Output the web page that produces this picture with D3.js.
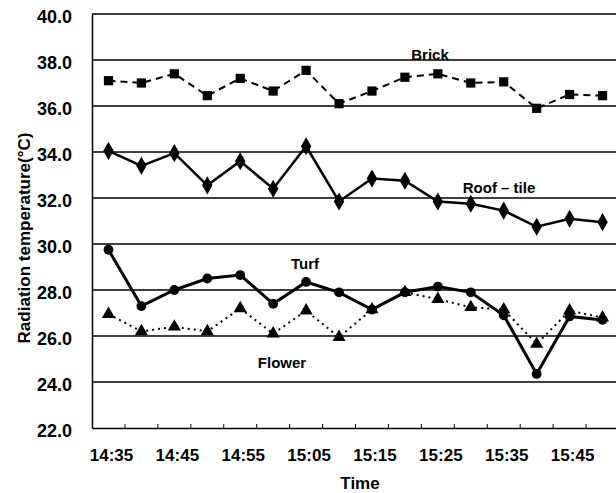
<!DOCTYPE html>
<html>
<head>
<meta charset="utf-8">
<script src="https://cdn.jsdelivr.net/npm/d3@7"></script>
<style>
  html, body { margin: 0; padding: 0; background: #fff; }
  svg { display: block; }
  text { font-family: "Liberation Sans", Arial, sans-serif; font-weight: bold; fill: #000; }
</style>
</head>
<body>
<svg id="chart" width="616" height="493"></svg>
<script>
const times = ["14:35","14:40","14:45","14:50","14:55","15:00","15:05","15:10",
               "15:15","15:20","15:25","15:30","15:35","15:40","15:45","15:50"];
const tickLabels = ["14:35","14:45","14:55","15:05","15:15","15:25","15:35","15:45"];
const yTicks = [22, 24, 26, 28, 30, 32, 34, 36, 38, 40];
const brick  = [37.1, 37.0, 37.4, 36.45, 37.2, 36.65, 37.55, 36.1, 36.65, 37.25, 37.4, 37.0, 37.05, 35.9, 36.5, 36.45];
const roof   = [34.05, 33.4, 33.95, 32.55, 33.6, 32.4, 34.25, 31.85, 32.85, 32.75, 31.85, 31.75, 31.45, 30.75, 31.1, 30.95];
const turf   = [29.75, 27.3, 28.0, 28.5, 28.65, 27.4, 28.35, 27.9, 27.15, 27.9, 28.15, 27.9, 26.9, 24.35, 26.85, 26.7];
const flower = [26.95, 26.2, 26.4, 26.2, 27.2, 26.1, 27.1, 25.95, 27.15, 27.9, 27.6, 27.25, 27.15, 25.65, 27.1, 26.8];

const svg = d3.select("#chart");
const mLeft = 92, mRight = 619, mTop = 14, mBottom = 428;

const x = d3.scaleBand().domain(times).range([mLeft, mRight]).paddingInner(0).paddingOuter(0);
const y = d3.scaleLinear().domain([22, 40]).range([mBottom, mTop]);
const cx = t => x(t) + x.bandwidth() / 2;

// gridlines
svg.append("g").selectAll("line")
  .data(yTicks.filter(v => v > 22))
  .join("line")
  .attr("x1", mLeft).attr("x2", 616)
  .attr("y1", d => y(d)).attr("y2", d => y(d))
  .attr("stroke", "#000").attr("stroke-width", 1.3);

// y axis
const yAxis = svg.append("g").attr("transform", `translate(${mLeft},0)`)
  .call(d3.axisLeft(y).tickValues(yTicks).tickFormat(d3.format(".1f")).tickSize(0).tickPadding(20));
yAxis.select(".domain").attr("stroke", "#000").attr("stroke-width", 1.5);
yAxis.selectAll("text").attr("font-size", 18).attr("font-family", "Liberation Sans, Arial, sans-serif")
  .attr("font-weight", "bold").attr("transform", "translate(0,3)");

// x axis
const xAxis = svg.append("g").attr("transform", `translate(0,${mBottom})`)
  .call(d3.axisBottom(x).tickValues(tickLabels).tickSize(0).tickPadding(21));
xAxis.select(".domain").attr("stroke", "#000").attr("stroke-width", 1.5);
xAxis.selectAll("text").attr("font-size", 17).attr("font-family", "Liberation Sans, Arial, sans-serif")
  .attr("font-weight", "bold").attr("transform", "translate(3,0)");
// small tick marks at category boundaries (pointing up)
xAxis.append("g").selectAll("line")
  .data(times.slice(1))
  .join("line")
  .attr("x1", d => x(d)).attr("x2", d => x(d))
  .attr("y1", 0).attr("y2", -4)
  .attr("stroke", "#000").attr("stroke-width", 1);

// axis titles
svg.append("text").attr("x", 360).attr("y", 489).attr("text-anchor", "middle")
  .attr("font-size", 17).text("Time");
svg.append("text").attr("transform", "translate(30,238) rotate(-90)").attr("text-anchor", "middle")
  .attr("font-size", 17).text("Radiation temperature(°C)");

// lines
const line = d3.line().x((d, i) => cx(times[i])).y(d => y(d));
svg.append("path").datum(brick).attr("d", line).attr("fill", "none")
  .attr("stroke", "#000").attr("stroke-width", 2).attr("stroke-dasharray", "7,5");
svg.append("path").datum(roof).attr("d", line).attr("fill", "none")
  .attr("stroke", "#000").attr("stroke-width", 2.5);
svg.append("path").datum(flower).attr("d", line).attr("fill", "none")
  .attr("stroke", "#000").attr("stroke-width", 2).attr("stroke-dasharray", "2,4");
svg.append("path").datum(turf).attr("d", line).attr("fill", "none")
  .attr("stroke", "#000").attr("stroke-width", 3);

// markers
const sym = (data, type, size) => svg.append("g").selectAll("path")
  .data(data).join("path")
  .attr("transform", (d, i) => `translate(${cx(times[i])},${y(d)})`)
  .attr("d", d3.symbol().type(type).size(size))
  .attr("fill", "#000");
sym(brick, d3.symbolSquare, 85);
sym(roof, d3.symbolDiamond, 95);
sym(flower, d3.symbolTriangle, 75);
sym(turf, d3.symbolCircle, 75);

// series labels
const lab = (t, xx, yy) => svg.append("text").attr("x", xx).attr("y", yy)
  .attr("text-anchor", "middle").attr("font-size", 15).text(t);
lab("Brick", 430, 60);
lab("Roof – tile", 499, 193);
lab("Turf", 305, 269);
lab("Flower", 282, 368);
</script>
</body>
</html>
